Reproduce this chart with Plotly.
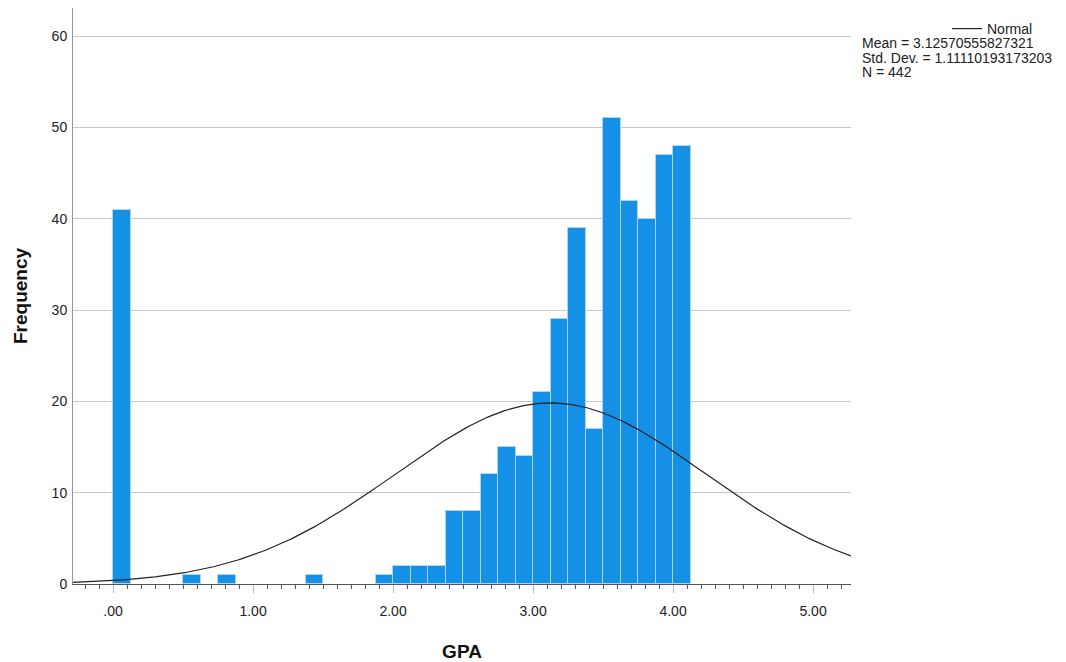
import numpy as np
import plotly.graph_objects as go

# ---- data ----
bin_starts = [0.0, 0.5, 0.75, 1.375, 1.875, 2.0, 2.125, 2.25, 2.375, 2.5, 2.625,
              2.75, 2.875, 3.0, 3.125, 3.25, 3.375, 3.5, 3.625, 3.75, 3.875, 4.0]
counts = [41, 1, 1, 1, 1, 2, 2, 2, 8, 8, 12,
          15, 14, 21, 29, 39, 17, 51, 42, 40, 47, 48]
bin_width = 0.125
mean = 3.12570555827321
std = 1.11110193173203
n_obs = 442
x_tick_vals = [0, 1, 2, 3, 4, 5]
x_tick_text = [".00", "1.00", "2.00", "3.00", "4.00", "5.00"]
y_tick_vals = [0, 10, 20, 30, 40, 50, 60]
x_range = [-0.286, 5.271]
y_range = [0, 63.1]

# normal curve fitted to the histogram
xc = np.linspace(x_range[0], x_range[1], 400)
yc = n_obs * bin_width / (std * np.sqrt(2 * np.pi)) * np.exp(-0.5 * ((xc - mean) / std) ** 2)

fig = go.Figure()
fig.add_trace(go.Bar(
    x=bin_starts, y=counts, width=bin_width, offset=0,
    marker=dict(color="#1490E6", line=dict(color="#A9D6F7", width=1)),
    showlegend=False, hoverinfo="x+y",
))
fig.add_trace(go.Scatter(
    x=xc, y=yc, mode="lines", name="Normal",
    line=dict(color="#222222", width=1.2), showlegend=True,
))

font = "Liberation Sans, Arial, sans-serif"
# the page body adds an 8px margin; compensate so the plot lands where the reference has it
OFF = 8
W, H = 1066 - OFF, 662 - OFF
L, R, T, B = 73 - OFF, 215, 8 - OFF, 78
pw = W - L - R
ph = H - T - B

def px_x(px):
    # px in screen pixels
    return (px - OFF - L) / pw

def px_y(py):
    return 1 - (py - OFF - T) / ph

fig.update_layout(
    width=W, height=H,
    margin=dict(l=L, r=R, t=T, b=B, autoexpand=False),
    plot_bgcolor="white", paper_bgcolor="white",
    font=dict(family=font, size=14, color="#222222"),
    bargap=0,
    showlegend=True,
    legend=dict(x=px_x(947), y=px_y(13), xanchor="left", yanchor="top",
                bgcolor="rgba(0,0,0,0)", font=dict(size=14, family=font, color="#222222"),
                itemwidth=30, tracegroupgap=0),
    xaxis=dict(
        range=x_range, tickvals=x_tick_vals, ticktext=x_tick_text,
        showgrid=False, zeroline=False,
        showline=True, linecolor="#555555", linewidth=1,
        ticks="outside", ticklen=8, tickcolor="#BBBBBB", tickwidth=1,
        minor=dict(dtick=0.1, tick0=0, ticks="outside", ticklen=4, tickcolor="#555555", tickwidth=1, showgrid=False),
        tickfont=dict(size=14, family=font, color="#222222"),
        ticklabelstandoff=6,
        title=dict(text="<b>GPA</b>", font=dict(size=19, family=font, color="#111111"), standoff=26),
    ),
    yaxis=dict(
        range=y_range, tickvals=y_tick_vals,
        showgrid=True, gridcolor="#C8C8C8", gridwidth=1,
        zeroline=False,
        showline=True, linecolor="#999999", linewidth=1,
        ticks="", tickfont=dict(size=14, family=font, color="#222222"),
        ticklabelstandoff=2,
        title=dict(text="<b>Frequency</b>", font=dict(size=19, family=font, color="#111111"), standoff=18),
    ),
)

stats_lines = [
    f"Mean = {mean:.14f}",
    f"Std. Dev. = {std:.14f}",
    f"N = {n_obs}",
]
for i, txt in enumerate(stats_lines):
    fig.add_annotation(
        text=txt, xref="paper", yref="paper",
        x=px_x(860), y=px_y(43 + i * 14.5), xanchor="left", yanchor="middle",
        showarrow=False, align="left",
        font=dict(size=14, family=font, color="#222222"),
    )

fig.write_html("out.html")
